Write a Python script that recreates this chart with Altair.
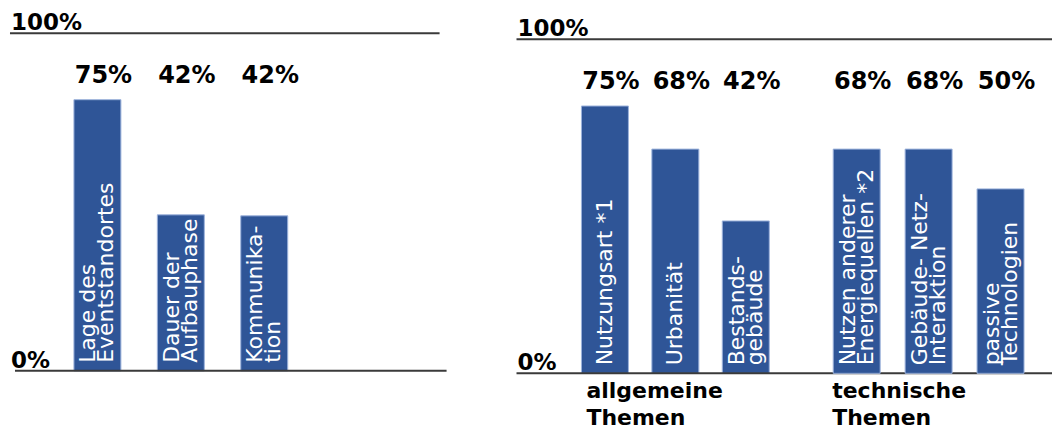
import altair as alt
import pandas as pd

# ---------------- data ----------------
left_topics = ["Lage des\nEventstandortes", "Dauer der\nAufbauphase", "Kommunika-\ntion"]
left_share = [75, 42, 42]            # printed percentages
left_bar = [80.3, 46.2, 45.9]        # bar lengths as drawn (percent of axis)

right_groups = ["allgemeine Themen", "allgemeine Themen", "allgemeine Themen",
                "technische Themen", "technische Themen", "technische Themen"]
right_topics = ["Nutzungsart *1", "Urbanität", "Bestands-\ngebäude",
                "Nutzen anderer\nEnergiequellen *2", "Gebäude- Netz-\nInteraktion",
                "passive\nTechnologien"]
right_share = [75, 68, 42, 68, 68, 50]
right_bar = [80.0, 67.1, 45.6, 67.1, 67.1, 55.2]

axis_ticks = ["0%", "100%"]
axis_values = [0, 100]

# ---------------- styles ----------------
BAR = "#2f5597"
BAR_EDGE = "#9db3dc"
LINE = "#3a3a3a"
FONT = "DejaVu Sans"
H = 428

left_df = pd.DataFrame({"topic": left_topics, "share": left_share, "bar": left_bar})
left_df["base"] = 0
right_df = pd.DataFrame({"group": right_groups, "topic": right_topics,
                         "share": right_share, "bar": right_bar})
right_df["base"] = 0
tick_df = pd.DataFrame({"tick": axis_ticks, "v": axis_values})
top_df = tick_df[tick_df["v"] == 100]
bot_df = tick_df[tick_df["v"] == 0]


def bar_layers(base, xenc, yscale, pct_y):
    bars = base.mark_bar(color=BAR, stroke=BAR_EDGE, strokeWidth=1).encode(
        x=xenc, y=alt.Y("bar:Q", scale=yscale, axis=None), y2="base:Q")
    txt_style = dict(angle=270, align="left", baseline="middle", dx=8, color="white",
                     font=FONT, fontSize=22, lineHeight=18, lineBreak="\n")
    one_line = base.transform_filter("indexof(datum.topic, '\\n') < 0").mark_text(
        **txt_style).encode(
        x=xenc, y=alt.Y("base:Q", scale=yscale, axis=None), text="topic:N")
    two_line = base.transform_filter("indexof(datum.topic, '\\n') >= 0").mark_text(
        dy=-9, **txt_style).encode(
        x=xenc, y=alt.Y("base:Q", scale=yscale, axis=None), text="topic:N")
    pct = base.transform_calculate(lab="datum.share + '%'").mark_text(
        align="center", baseline="alphabetic", dx=6, font=FONT, fontWeight="bold",
        fontSize=24, color="black").encode(x=xenc, y=alt.value(pct_y), text="lab:N")
    return [bars, one_line, two_line, pct]


def rule(df, yscale, x0, x1):
    return alt.Chart(df).mark_rule(color=LINE, strokeWidth=2).encode(
        x=alt.value(x0), x2=alt.value(x1), y=alt.Y("v:Q", scale=yscale, axis=None))


def tick_labels(yscale, x0):
    return alt.Chart(tick_df).mark_text(
        align="left", baseline="alphabetic", dy=-3, font=FONT, fontWeight="bold",
        fontSize=23, color="black").encode(
        x=alt.value(x0), y=alt.Y("v:Q", scale=yscale, axis=None), text="tick:N")


# ---------------- left panel ----------------
ly_scale = alt.Scale(domain=[-16.86, 109.76], nice=False, zero=False)
lx = alt.X("topic:N", sort=left_topics, axis=None,
           scale=alt.Scale(range=[74, 288], paddingInner=0.437, paddingOuter=0))
left = alt.layer(
    *bar_layers(alt.Chart(left_df), lx, ly_scale, 83),
    rule(top_df, ly_scale, 10, 440), rule(bot_df, ly_scale, 15, 447),
    tick_labels(ly_scale, 11),
).properties(width=450, height=H)

# ---------------- right panel (two topic groups) ----------------
ry_scale = alt.Scale(domain=[-16.29, 111.66], nice=False, zero=False)
group_order = list(dict.fromkeys(right_groups))
RIGHT_W = 536


def group_panel(gname, width, xrange, pinner, label_dx, first):
    sub = right_df[right_df["group"] == gname]
    topics = list(sub["topic"])
    base = alt.Chart(sub)
    xenc = alt.X("topic:N", sort=topics, axis=None,
                 scale=alt.Scale(range=xrange, paddingInner=pinner, paddingOuter=0))
    glabel = alt.Chart(sub.head(1)).mark_text(
        align="left", baseline="alphabetic", dx=label_dx, font=FONT, fontWeight="bold",
        fontSize=22, lineHeight=27, lineBreak=" ", color="black").encode(
        x=xenc, y=alt.value(398), text="group:N")
    layers = bar_layers(base, xenc, ry_scale, 89) + [glabel]
    if first:
        layers += [rule(top_df, ry_scale, 0, RIGHT_W), rule(bot_df, ry_scale, 0, RIGHT_W),
                   tick_labels(ry_scale, 1)]
    return alt.layer(*layers).properties(width=width, height=H)


right = alt.hconcat(
    group_panel(group_order[0], 283, [65, 253], 0.333, -18.5, True),
    group_panel(group_order[1], 253, [34, 225], 0.347, -24.5, False),
    spacing=0, bounds="flush",
)

chart = alt.hconcat(left, right, spacing=67, bounds="flush").properties(
    padding=0, background="white"
).configure_view(stroke=None)

chart.save("out.html", embed_options={"renderer": "svg", "actions": False})
